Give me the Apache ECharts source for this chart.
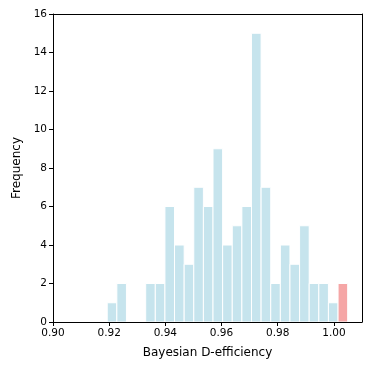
<!DOCTYPE html>
<html>
<head>
<meta charset="utf-8">
<script src="https://cdn.jsdelivr.net/npm/echarts@6/dist/echarts.min.js"></script>
<style>
  html, body { margin: 0; padding: 0; background: #fff; }
  #chart { width: 372px; height: 370px; }
</style>
</head>
<body>
<div id="chart"></div>
<script>
// histogram bins (25 equal-width bins), counts
const binStart = 0.9193
const binWidth = 0.003424
const counts = [1, 2, 0, 0, 2, 2, 6, 4, 3, 7, 6, 9, 4, 5, 6, 15, 7, 2, 4, 3, 5, 2, 2, 1, 2]
// last bin is highlighted in red
const highlightIndex = [24]
const xTicks = [0.90, 0.92, 0.94, 0.96, 0.98, 1.00]

const blue = 'rgb(198,228,237)'
const red = 'rgb(245,166,166)'

const data = counts.map((c, i) => [binStart + i * binWidth, binStart + (i + 1) * binWidth, c, i])

const chart = echarts.init(document.getElementById('chart'))

const font = 'DejaVu Sans'

// plain frame line for the top / right edges
const frameAxis = {
  z: 5,
  axisLine: { show: true, onZero: false, lineStyle: { color: '#000', width: 1 } },
  axisTick: { show: false },
  axisLabel: { show: false },
  splitLine: { show: false }
}

chart.setOption({
  animation: false,
  grid: { left: 53, top: 14, right: 10, bottom: 48 },
  xAxis: [
    {
      type: 'value',
      z: 5,
      min: 0.90,
      max: 1.01,
      name: 'Bayesian D-efficiency',
      nameLocation: 'middle',
      nameGap: 25,
      nameTextStyle: { fontFamily: font, fontSize: 12, color: '#000' },
      splitLine: { show: false },
      axisLine: { onZero: false, lineStyle: { color: '#000', width: 1 } },
      axisTick: { show: true, length: 4, lineStyle: { color: '#000' }, customValues: xTicks },
      axisLabel: {
        fontFamily: font, fontSize: 10.5, color: '#000', margin: 6,
        customValues: xTicks,
        formatter: v => v.toFixed(2)
      }
    },
    Object.assign({ type: 'value', position: 'top', min: 0.90, max: 1.01 }, frameAxis)
  ],
  yAxis: [
    {
      type: 'value',
      z: 5,
      min: 0,
      max: 16,
      interval: 2,
      name: 'Frequency',
      nameLocation: 'middle',
      nameGap: 30,
      nameTextStyle: { fontFamily: font, fontSize: 12, color: '#000' },
      splitLine: { show: false },
      axisLine: { show: true, onZero: false, lineStyle: { color: '#000', width: 1 } },
      axisTick: { show: true, length: 4, lineStyle: { color: '#000' } },
      axisLabel: { fontFamily: font, fontSize: 10.5, color: '#000', margin: 6 }
    },
    Object.assign({ type: 'value', position: 'right', min: 0, max: 16 }, frameAxis)
  ],
  series: [
    {
      type: 'custom',
      z: 1,
      data: data,
      encode: { x: [0, 1], y: 2 },
      renderItem: (params, api) => {
        const count = api.value(2)
        if (!count) return
        const p0 = api.coord([api.value(0), count])
        const p1 = api.coord([api.value(1), 0])
        const isRed = highlightIndex.includes(api.value(3))
        return {
          type: 'rect',
          shape: { x: p0[0], y: p0[1], width: p1[0] - p0[0], height: p1[1] - p0[1] },
          style: { fill: isRed ? red : blue, stroke: '#fff', lineWidth: 1 }
        }
      }
    }
  ]
})
</script>
</body>
</html>
